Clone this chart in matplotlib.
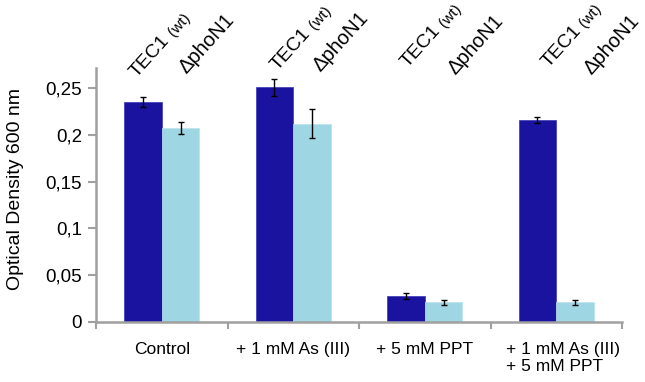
import matplotlib
matplotlib.use("Agg")
import matplotlib.pyplot as plt
import numpy as np

plt.rcParams['font.family'] = ['Liberation Sans', 'DejaVu Sans']

categories = ["Control", "+ 1 mM As (III)", "+ 5 mM PPT", "+ 1 mM As (III)\n+ 5 mM PPT"]
wt_values = [0.235, 0.251, 0.028, 0.216]
wt_errors = [0.005, 0.009, 0.003, 0.003]
mut_values = [0.207, 0.212, 0.021, 0.021]
mut_errors = [0.0065, 0.0155, 0.0025, 0.003]
yticks = [0, 0.05, 0.1, 0.15, 0.2, 0.25]
ytick_labels = ["0", "0,05", "0,1", "0,15", "0,2", "0,25"]

# layout of the rotated strain labels (data coordinates)
tec_pos = [(0.31, 0.261), (1.38, 0.268), (2.37, 0.271), (3.44, 0.271)]
pho_pos = [(0.69, 0.265), (1.71, 0.267), (2.73, 0.264), (3.77, 0.264)]
angle = 48

dark = "#1a139f"
light = "#9fd6e3"
gray = "#a0a0a0"

fig = plt.figure(figsize=(6.45, 3.82), dpi=100)
ax = fig.add_axes([96/645, 1-322/382, (622-96)/645, (322-68)/382])

x = np.arange(len(categories)) + 0.5
w = 0.286
ax.bar(x - w/2, wt_values, w, color=dark, edgecolor="#3a35b5", linewidth=0.5,
       yerr=wt_errors, capsize=2.5, error_kw=dict(elinewidth=1, capthick=1, ecolor="black"))
ax.bar(x + w/2, mut_values, w, color=light, edgecolor="#b8e2ec", linewidth=0.5,
       yerr=mut_errors, capsize=2.5, error_kw=dict(elinewidth=1, capthick=1, ecolor="black"))

ax.set_xlim(0, 4)
ax.set_ylim(0, 0.2715)
ax.set_yticks(yticks)
ax.set_yticklabels(ytick_labels, fontsize=13.5)
ax.set_xticks([0, 1, 2, 3, 4])
ax.set_xticklabels([])
ax.tick_params(axis='x', length=5, width=1.5, color=gray, direction='out')
ax.tick_params(axis='y', length=6, width=1.5, color=gray, direction='out', pad=4)
for s in ['top', 'right']:
    ax.spines[s].set_visible(False)
for s in ['left', 'bottom']:
    ax.spines[s].set_color(gray)
    ax.spines[s].set_linewidth(1.8)

for i, (xi, lab) in enumerate(zip(x, categories)):
    ax.text(xi + (0.05 if "\n" in lab else 0), -0.021, lab, ha='center', va='top',
            fontsize=12.5, multialignment='left', linespacing=1.2)

ax.set_ylabel("Optical Density 600 nm", fontsize=14)
ax.yaxis.set_label_coords(-0.137, 0.524)

fs = 14
L = (0.611 + 0.667 + 0.722 + 0.556 + 0.278) * fs
offx, offy = L * np.cos(np.radians(angle)), L * np.sin(np.radians(angle))
for (tx, ty), (px, py) in zip(tec_pos, pho_pos):
    ax.text(tx, ty, "TEC1", rotation=angle,
            rotation_mode='anchor', ha='left', va='baseline', fontsize=fs)
    ax.annotate("(wt)", xy=(tx, ty), xytext=(offx, offy), textcoords='offset points',
                rotation=angle, rotation_mode='anchor', ha='left', va='baseline', fontsize=11)
    ax.text(px, py, "\u0394phoN1", rotation=angle,
            rotation_mode='anchor', ha='left', va='baseline', fontsize=14.5)

fig.savefig("out.png", dpi=100)
